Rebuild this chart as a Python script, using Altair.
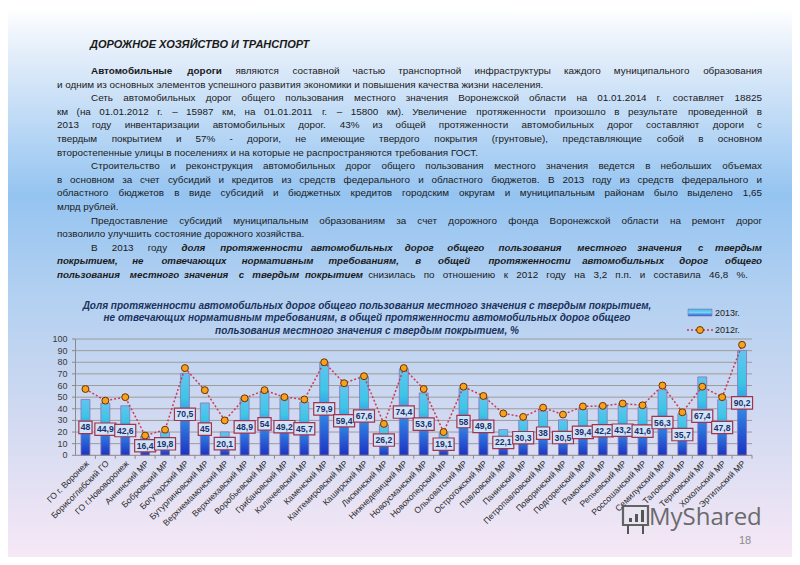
import altair as alt
import pandas as pd

# ---------------- data ----------------
categories = ["ГО г. Воронеж", "Борисоглебский ГО", "ГО г.Нововоронеж", "Аннинский МР",
              "Бобровский МР", "Богучарский МР", "Бутурлиновский МР", "Верхнемамонский МР",
              "Верхнехавский МР", "Воробьевский МР", "Грибановский МР", "Калачеевский МР",
              "Каменский МР", "Кантемировский МР", "Каширский МР", "Лискинский МР",
              "Нижнедевицкий МР", "Новоусманский МР", "Новохоперский МР", "Ольховатский МР",
              "Острогожский МР", "Павловский МР", "Панинский МР", "Петропавловский МР",
              "Поворинский МР", "Подгоренский МР", "Рамонский МР", "Репьевский МР",
              "Россошанский МР", "Семилукский МР", "Таловский МР", "Терновский МР",
              "Хохольский МР", "Эртильский МР"]
values_2013 = [48, 44.9, 42.6, 16.4, 19.8, 70.5, 45, 20.1, 48.9, 54, 49.2, 45.7, 79.9, 59.4,
               67.6, 26.2, 74.4, 53.6, 19.1, 58, 49.8, 22.1, 30.3, 38, 30.5, 39.4, 42.2, 43.2,
               41.6, 56.3, 35.7, 67.4, 47.8, 90.2]
values_2012 = [57, 47, 50, 17, 22, 75, 56, 30, 49, 56, 50, 48, 80, 62, 68, 27, 75, 57, 20, 59,
               51, 36, 33, 41, 35, 42, 42.5, 44.5, 43, 60, 37, 59, 50, 95]
y_ticks = [0, 10, 20, 30, 40, 50, 60, 70, 80, 90, 100]
series_names = ["2013г.", "2012г."]

chart_title = ["Доля протяженности автомобильных дорог общего пользования местного значения с твердым покрытием,",
               "не отвечающих нормативным требованиям, в общей протяженности автомобильных дорог общего",
               "пользования местного значения с твердым покрытием, %"]

page_title = "ДОРОЖНОЕ ХОЗЯЙСТВО И ТРАНСПОРТ"
# (indent, justified-to-x or None, [(text, style)])  style: r regular, b bold, bi bold italic
J = 754
text_lines = [
    (True, J, [("Автомобильные дороги", "b"), ("являются составной частью транспортной инфраструктуры каждого муниципального образования", "r")]),
    (False, None, [("и одним из основных элементов успешного развития экономики и повышения качества жизни населения.", "r")]),
    (True, J, [("Сеть автомобильных дорог общего пользования местного значения Воронежской области на 01.01.2014 г. составляет 18825", "r")]),
    (False, J, [("км (на 01.01.2012 г. – 15987 км, на 01.01.2011 г. – 15800 км). Увеличение протяженности произошло в результате проведенной в", "r")]),
    (False, J, [("2013 году инвентаризации автомобильных дорог. 43% из общей протяженности автомобильных дорог составляют дороги с", "r")]),
    (False, J, [("твердым покрытием и 57% - дороги, не имеющие твердого покрытия (грунтовые), представляющие собой в основном", "r")]),
    (False, None, [("второстепенные улицы в поселениях и на которые не распространяются требования ГОСТ.", "r")]),
    (True, J, [("Строительство и реконструкция автомобильных дорог общего пользования местного значения ведется в небольших объемах", "r")]),
    (False, J, [("в основном за счет субсидий и кредитов из средств федерального и областного бюджетов. В 2013 году из средств федерального и", "r")]),
    (False, J, [("областного бюджетов в виде субсидий и бюджетных кредитов городским округам и муниципальным районам было выделено 1,65", "r")]),
    (False, None, [("млрд рублей.", "r")]),
    (True, J, [("Предоставление субсидий муниципальным образованиям за счет дорожного фонда Воронежской области на ремонт дорог", "r")]),
    (False, None, [("позволило улучшить состояние дорожного хозяйства.", "r")]),
    (True, J, [("В 2013 году", "r"), ("доля протяженности автомобильных дорог общего пользования местного значения с твердым", "bi")]),
    (False, J, [("покрытием, не отвечающих нормативным требованиям, в общей протяженности автомобильных дорог общего", "bi")]),
    (False, 740, [("пользования местного значения с твердым покрытием", "bi"), ("снизилась по отношению к 2012 году на 3,2 п.п. и составила 46,8 %.", "r")]),
]

# ---------------- layout constants ----------------
W, H = 784, 549
X_RANGE = [67.5, 744]
Y_RANGE = [447.3, 331]
FONT = "Liberation Sans, Arial, sans-serif"
FS_R = 9.9
FS_BI = 9.7

# approximate Arial advance widths (1/1000 em) used to spread justified lines
ADV = {}
def _put(chars, widths):
    for c, w in zip(chars, widths):
        ADV[c] = w
_put("АБВГДЕЖЗИЙКЛМНОПРСТУФХЦЧШЩЪЫЬЭЮЯ",
     [667, 656, 667, 542, 677, 667, 923, 604, 719, 719, 583, 656, 833, 722, 778, 719, 667, 722,
      611, 635, 760, 667, 740, 667, 917, 938, 792, 885, 656, 719, 1010, 719])
_put("абвгдежзийклмнопрстуфхцчшщъыьэюя",
     [556, 573, 531, 365, 583, 556, 669, 458, 559, 559, 438, 583, 688, 552, 556, 542, 556, 500,
      458, 500, 823, 500, 573, 521, 802, 823, 625, 719, 521, 510, 750, 542])
_put("0123456789", [556] * 10)
_put(" .,:;-–%()", [278, 278, 278, 278, 278, 333, 556, 889, 333, 333])

def text_width(s, style):
    tot = 0.0
    for ch in s:
        w = ADV.get(ch, 556)
        if style in ("b", "bi") and ch != " ":
            w *= 1.12
        tot += w
    return tot / 1000 * (FS_BI if style == "bi" else FS_R)

LEFT, INDENT = 49, 83
rows = []
for i, (indent, right, segs) in enumerate(text_lines):
    y = 63 + i * 13.6
    x0 = INDENT if indent else LEFT
    if right is None:
        rows.append({"x": x0, "y": y, "t": segs[0][0], "s": segs[0][1], "a": "left"})
        continue
    words = []
    for txt, st in segs:
        for w in txt.split():
            words.append((w, st))
    widths = [text_width(w, st) for w, st in words]
    gap = (right - x0 - sum(widths)) / (len(words) - 1)
    x = x0
    for k, ((w, st), wd) in enumerate(zip(words, widths)):
        if k == len(words) - 1:
            rows.append({"x": right, "y": y, "t": w, "s": st, "a": "right"})
        else:
            rows.append({"x": x, "y": y, "t": w, "s": st, "a": "left"})
        x += wd + gap
words_df = pd.DataFrame(rows)

df = pd.DataFrame({"cat": categories, "v13": values_2013, "v12": values_2012})
df["mid"] = df["v13"] / 2
df["lab"] = [("%g" % v).replace(".", ",") for v in values_2013]
df["bw"] = ["s" if len(l) <= 2 else "l" for l in df["lab"]]
ticks_df = pd.DataFrame({"tick": y_ticks})
one = pd.DataFrame({"a": [0]})

XS = alt.Scale(domain=categories, range=X_RANGE, paddingInner=0.55, paddingOuter=0.275)
YS = alt.Scale(domain=[0, 100], range=Y_RANGE, nice=False, zero=False)

def X(field="cat"):
    return alt.X(f"{field}:N", scale=XS, axis=None, sort=categories)

def Y(field):
    return alt.Y(f"{field}:Q", scale=YS, axis=None)

# ---------------- layers ----------------
bg = alt.Chart(one).mark_rect(
    color=alt.LinearGradient(gradient="linear", x1=0, x2=0, y1=0, y2=1, stops=[
        alt.GradientStop(color="#ffffff", offset=0),
        alt.GradientStop(color="#e4eefa", offset=0.08),
        alt.GradientStop(color="#95c4f1", offset=0.34),
        alt.GradientStop(color="#b2d0f1", offset=0.52),
        alt.GradientStop(color="#d0d9f1", offset=0.74),
        alt.GradientStop(color="#f6e8f6", offset=1)])
).encode(x=alt.value(0), x2=alt.value(W), y=alt.value(0), y2=alt.value(H))

grid = alt.Chart(ticks_df).transform_filter("datum.tick > 0").mark_rule(
    color="#9c9c9c", strokeWidth=1).encode(y=Y("tick"), x=alt.value(X_RANGE[0]), x2=alt.value(X_RANGE[1]))

bars = alt.Chart(df).mark_bar(
    stroke="#8c74b8", strokeWidth=0.8,
    color=alt.LinearGradient(gradient="linear", x1=0, x2=0, y1=0, y2=1, stops=[
        alt.GradientStop(color="#62c4ef", offset=0),
        alt.GradientStop(color="#3cc6e6", offset=0.3),
        alt.GradientStop(color="#2f7fe2", offset=0.6),
        alt.GradientStop(color="#1c33c2", offset=1)])
).encode(x=X(), y=Y("v13"), y2=alt.datum(0))

yaxis = alt.Chart(one).mark_rule(color="#8a8a8a").encode(
    x=alt.value(X_RANGE[0]), y=alt.value(Y_RANGE[1]), y2=alt.value(Y_RANGE[0]))
xaxis = alt.Chart(one).mark_rule(color="#8a8a8a").encode(
    x=alt.value(X_RANGE[0]), x2=alt.value(X_RANGE[1]), y=alt.value(Y_RANGE[0]))
yticks = alt.Chart(ticks_df).mark_rule(color="#8a8a8a").encode(
    y=Y("tick"), x=alt.value(X_RANGE[0] - 3.5), x2=alt.value(X_RANGE[0]))
xticks = alt.Chart(df).mark_rule(color="#8a8a8a", xOffset=9.95).encode(
    x=X(), y=alt.value(Y_RANGE[0]), y2=alt.value(Y_RANGE[0] + 3.5))
ylabels = alt.Chart(ticks_df).mark_text(
    align="right", baseline="middle", fontSize=9, font=FONT, color="#3a3a3a").encode(
    y=Y("tick"), x=alt.value(59.5), text="tick:Q")
xlabels = alt.Chart(df).mark_text(
    align="right", baseline="middle", angle=315, fontSize=8.6, font=FONT, color="#2a2a2a", xOffset=2).encode(
    x=X(), y=alt.value(454), text="cat:N")

line12 = alt.Chart(df).mark_line(color="#cc3a52", strokeWidth=1.5, strokeDash=[2, 2]).encode(
    x=X(), y=Y("v12"))
pts12 = alt.Chart(df).mark_point(shape="circle", filled=True, fill="#f6a21e", stroke="#6e3200",
                                  strokeWidth=1, size=48, opacity=1).encode(x=X(), y=Y("v12"))

P_S = "M-0.66,-0.62H0.66V0.62H-0.66Z"
P_L = "M-1.05,-0.62H1.05V0.62H-1.05Z"
boxes = alt.Chart(df).mark_point(filled=True, fill="#cfe5f7", stroke="#a3324f", strokeWidth=1.2,
                                 opacity=1).encode(
    x=X(), y=Y("mid"), size=alt.value(400),
    shape=alt.Shape("bw:N", scale=alt.Scale(domain=["s", "l"], range=[P_S, P_L]), legend=None))
labels = alt.Chart(df).mark_text(fontSize=8.6, fontWeight="bold", font=FONT, color="#1d2f6e",
                                 baseline="middle").encode(x=X(), y=Y("mid"), text="lab:N")

title_df = pd.DataFrame({"t": chart_title, "y": [297.7, 310.3, 322.7]})
ctitle = alt.Chart(title_df).mark_text(fontSize=10, fontWeight="bold", fontStyle="italic", font=FONT,
                                       color="#1b335e", align="center", baseline="middle").encode(
    x=alt.value(359), y=alt.Y("y:Q", scale=None, axis=None), text="t:N")

leg_bar = alt.Chart(one).mark_rect(
    stroke="#8c74b8", strokeWidth=0.6,
    color=alt.LinearGradient(gradient="linear", x1=0, x2=0, y1=0, y2=1, stops=[
        alt.GradientStop(color="#3ab4ea", offset=0),
        alt.GradientStop(color="#78d2f2", offset=0.5),
        alt.GradientStop(color="#2a55d6", offset=1)])
).encode(x=alt.value(680), x2=alt.value(704), y=alt.value(301), y2=alt.value(308))
leg_line = alt.Chart(one).mark_rule(color="#cc3a52", strokeWidth=1.5, strokeDash=[2, 2]).encode(
    x=alt.value(679), x2=alt.value(705), y=alt.value(322))
leg_pt = alt.Chart(one).mark_point(shape="circle", filled=True, fill="#f6a21e", stroke="#6e3200",
                                   strokeWidth=1, size=48, opacity=1).encode(x=alt.value(692), y=alt.value(322))
leg_df = pd.DataFrame({"t": series_names, "y": [304.5, 322]})
leg_txt = alt.Chart(leg_df).mark_text(fontSize=9, font=FONT, color="#222222", align="left",
                                      baseline="middle").encode(
    x=alt.value(707), y=alt.Y("y:Q", scale=None, axis=None), text="t:N")

ptitle = alt.Chart(pd.DataFrame({"t": [page_title]})).mark_text(
    fontSize=11, fontWeight="bold", fontStyle="italic", font=FONT, color="#1a1a1a",
    align="left", baseline="middle").encode(x=alt.value(82), y=alt.value(37), text="t:N")

def word_layer(style, align, **kw):
    return alt.Chart(words_df).transform_filter(
        f"datum.s == '{style}' && datum.a == '{align}'").mark_text(
        align=align, baseline="middle", color="#1a1a1a", font=FONT, **kw).encode(
        x=alt.X("x:Q", scale=None, axis=None), y=alt.Y("y:Q", scale=None, axis=None), text="t:N")

word_layers = []
for al in ("left", "right"):
    word_layers.append(word_layer("r", al, fontSize=FS_R))
    word_layers.append(word_layer("b", al, fontSize=FS_R, fontWeight="bold"))
    word_layers.append(word_layer("bi", al, fontSize=FS_BI, fontWeight="bold", fontStyle="italic"))

# watermark (logo board + name) and page number
icon_board = alt.Chart(one).mark_rect(fill="#e9e6f0", stroke="#555555", strokeWidth=2.2, opacity=0.9).encode(
    x=alt.value(615), x2=alt.value(640), y=alt.value(498), y2=alt.value(517))
icon_df = pd.DataFrame({"x1": [621, 627, 633], "x2": [624, 630, 636], "y1": [510, 506, 502]})
icon_bars = alt.Chart(icon_df).mark_rect(fill="#555555").encode(
    x=alt.X("x1:Q", scale=None, axis=None), x2="x2:Q",
    y=alt.Y("y1:Q", scale=None, axis=None), y2=alt.value(514))
icon_legs = alt.Chart(pd.DataFrame({"x": [620, 635]})).mark_rule(color="#555555", strokeWidth=2).encode(
    x=alt.X("x:Q", scale=None, axis=None), y=alt.value(517), y2=alt.value(526))
wm = alt.Chart(pd.DataFrame({"t": ["MyShared"]})).mark_text(
    fontSize=24, font="Open Sans, sans-serif", color="#555555", opacity=0.85, align="left",
    baseline="middle").encode(x=alt.value(641), y=alt.value(510), text="t:N")
pnum = alt.Chart(pd.DataFrame({"t": ["18"]})).mark_text(
    fontSize=11, font=FONT, color="#8a8a8a", align="center", baseline="middle").encode(
    x=alt.value(737), y=alt.value(533), text="t:N")

chart = alt.layer(
    bg, grid, bars, yaxis, xaxis, yticks, xticks, ylabels, xlabels, line12, pts12, boxes, labels,
    ctitle, leg_bar, leg_line, leg_pt, leg_txt, ptitle, *word_layers,
    icon_board, icon_bars, icon_legs, wm, pnum
).resolve_scale(x="independent", y="independent", shape="independent").properties(
    width=W, height=H, padding=0, background="#ffffff"
).configure_view(stroke=None)

chart.save("out.html", embed_options={"renderer": "svg", "actions": False})
